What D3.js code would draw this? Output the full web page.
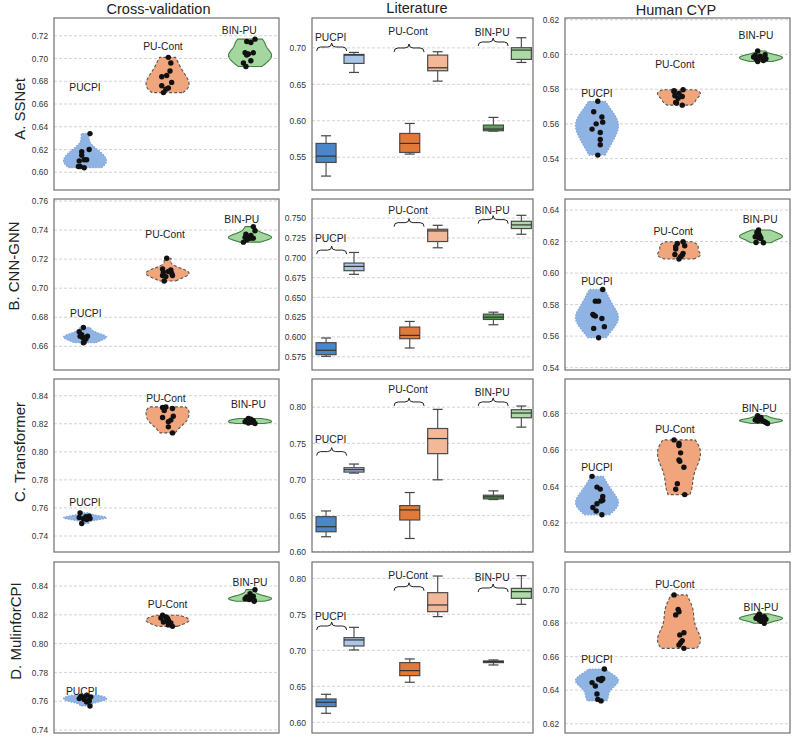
<!DOCTYPE html>
<html><head><meta charset="utf-8">
<script src="https://cdn.jsdelivr.net/npm/d3@7"></script>
<style>body{margin:0;background:#fff} text{font-family:"Liberation Sans",Arial,sans-serif}</style>
</head><body><svg id="c" width="800" height="738"></svg>
<script>
const methods = ["A. SSNet","B. CNN-GNN","C. Transformer","D. MulinforCPI"];
const datasets = ["Cross-validation","Literature","Human CYP"];
const groups = ["PUCPI","PU-Cont","BIN-PU"];

// Cross-validation violins [method][group]
const cvValues = [
 [[0.634,0.620,0.618,0.615,0.611,0.611,0.610,0.605,0.604,0.605],
  [0.701,0.696,0.689,0.685,0.684,0.679,0.676,0.674,0.673,0.670],
  [0.717,0.715,0.714,0.705,0.705,0.704,0.703,0.698,0.696,0.693]],
 [[0.673,0.670,0.668,0.667,0.667,0.666,0.666,0.665,0.663,0.6625],
  [0.7206,0.7133,0.7126,0.7115,0.711,0.7103,0.7087,0.7087,0.708,0.705],
  [0.7424,0.7395,0.7372,0.7363,0.7356,0.735,0.7344,0.7344,0.7333,0.7317]],
 [[0.7565,0.7542,0.7537,0.7535,0.7532,0.753,0.7525,0.7523,0.7518,0.7489],
  [0.832,0.8316,0.8309,0.8295,0.8254,0.8245,0.8226,0.8214,0.8178,0.8135],
  [0.8238,0.8232,0.8226,0.8226,0.8221,0.8214,0.8214,0.821,0.8205,0.8202]],
 [[0.7641,0.7635,0.763,0.7625,0.7618,0.7611,0.7607,0.7602,0.7595,0.7567],
  [0.8197,0.8185,0.8178,0.8174,0.8162,0.8157,0.815,0.8144,0.813,0.812],
  [0.8375,0.8347,0.8329,0.8324,0.8317,0.8312,0.8312,0.8306,0.8301,0.8294]]
];
const cvJitter = [
 [[.06,.05,-.04,-.04,-.01,.02,-.07,-.06,-.01,-.08],[.01,.04,.03,-.01,-.07,.05,-.07,.01,-.02,-.05],[.06,-.04,.01,-.06,.04,-.02,-.04,.01,-.08,-.05]],
 [[-.02,-.07,-.04,.03,-.06,-.03,0,.01,-.01,-.02],[-.01,-.06,.04,.01,-.05,.05,-.06,.06,-.02,-.04],[.04,.06,-.05,.01,-.02,-.06,0,.04,-.04,-.08]],
 [[-.06,.05,.01,.04,-.07,.04,.06,-.02,.02,-.04],[-.02,-.06,.06,-.04,.07,-.06,.04,.01,.01,.06],[-.02,.01,.02,-.04,.04,-.06,0,.02,-.02,.06]],
 [[.02,-.05,.07,-.02,-.07,-.01,.05,.05,.02,.06],[-.06,-.02,-.08,0,.01,-.01,-.05,.04,.01,.06],[.06,0,.04,-.04,.02,-.02,-.06,-.01,.05,.05]]
];
const cvLabelAt = [
 [[0,0.6745],[0.945,0.7103],[1.87,0.7244]],
 [[0.01,0.6828],[0.97,0.7367],[1.9,0.747]],
 [[0,0.7637],[0.98,0.838],[1.98,0.834]],
 [[-0.04,0.7664],[1.0,0.8271],[2.0,0.8428]]
];
const cvTicks = [[0.60,0.62,0.64,0.66,0.68,0.70,0.72],[0.66,0.68,0.70,0.72,0.74,0.76],[0.74,0.76,0.78,0.80,0.82,0.84],[0.74,0.76,0.78,0.80,0.82,0.84]];
const cvDomain = [[0.5844,0.7356],[0.6437,0.7614],[0.7286,0.8519],[0.7379,0.8567]];

// Human CYP violins [method][group]
const cypValues = [
 [[0.573,0.567,0.564,0.561,0.560,0.557,0.555,0.551,0.548,0.542],
  [0.5797,0.5791,0.5786,0.5776,0.5762,0.5758,0.5747,0.5724,0.572,0.5708],
  [0.602,0.5998,0.5994,0.599,0.5985,0.5979,0.5975,0.5975,0.5965,0.5959]],
 [[0.5896,0.5822,0.5822,0.5738,0.5732,0.5727,0.5712,0.566,0.5649,0.559],
  [0.6199,0.6188,0.6173,0.6167,0.6152,0.6125,0.6118,0.6114,0.6104,0.6089],
  [0.6273,0.6258,0.6252,0.6241,0.623,0.623,0.6224,0.622,0.6194,0.6192]],
 [[0.6455,0.6396,0.6385,0.6345,0.6324,0.632,0.6305,0.6284,0.6265,0.6244],
  [0.6655,0.6636,0.6624,0.6584,0.6545,0.6538,0.6505,0.6415,0.6384,0.6355],
  [0.6787,0.6778,0.6769,0.6764,0.6764,0.676,0.676,0.6756,0.675,0.6745]],
 [[0.6526,0.647,0.6468,0.6465,0.6457,0.6445,0.6425,0.6377,0.6345,0.6336],
  [0.6967,0.6881,0.6867,0.6848,0.6742,0.6729,0.6695,0.6683,0.6669,0.6649],
  [0.6854,0.6842,0.6838,0.6834,0.6828,0.6825,0.6822,0.6818,0.681,0.6798]]
];
const cypJitter = [
 [[.01,-.04,.06,.07,-.01,-.06,.04,.04,.04,.01],[.05,-.06,-.06,0,-.05,.04,-.01,-.04,-.03,.04],[-.04,.05,-.07,-.01,-.09,0,-.06,.06,.03,-.04]],
 [[.07,-.02,.02,-.05,-.04,-.02,.06,.09,-.04,.02],[.05,-.02,.07,-.04,-.04,.05,-.05,.04,.02,0],[-.03,-.05,-.03,-.02,-.07,-.01,-.03,0,-.06,.03]],
 [[-.06,0,.04,.07,.07,.05,0,-.05,-.01,.06],[-.06,0,0,.02,0,.01,.06,-.02,-.04,.07],[-.04,0,-.06,-.02,-.07,.02,-.04,.04,.06,.08]],
 [[.09,.06,.07,.02,.05,-.06,-.02,0,.01,.05],[-.06,-.01,0,-.04,.06,.01,.04,.02,0,.06],[-.02,-.04,.04,.02,-.06,0,.06,-.02,0,.04]]
];
const cypLabelAt = [
 [[0,0.5776],[0.95,0.594],[1.94,0.6107]],
 [[0,0.5945],[0.93,0.6263],[1.99,0.6338]],
 [[0,0.6502],[0.95,0.6711],[1.98,0.6829]],
 [[0,0.658],[0.95,0.7032],[2.0,0.6893]]
];
const cypTicks = [[0.54,0.56,0.58,0.60,0.62],[0.54,0.56,0.58,0.60,0.62,0.64],[0.62,0.64,0.66,0.68],[0.62,0.64,0.66,0.68,0.70]];
const cypDomain = [[0.5219,0.621],[0.5385,0.647],[0.604,0.6989],[0.6145,0.7163]];

// Literature boxplots [method][group] = [low whisker, q1, median, q3, high whisker]
const litDark = [
 [[0.5241,0.5428,0.5515,0.5689,0.5794],[0.5543,0.5565,0.5689,0.5826,0.5963],[0.5858,0.5863,0.5886,0.5941,0.6046]],
 [[0.5756,0.5777,0.5832,0.5928,0.5987],[0.5861,0.5978,0.602,0.6125,0.6196],[0.6154,0.6221,0.625,0.6288,0.6313]],
 [[0.6207,0.6276,0.6346,0.6485,0.6564],[0.6183,0.6439,0.6578,0.6638,0.6819],[0.6722,0.6731,0.6759,0.6782,0.6842]],
 [[0.6125,0.6218,0.6278,0.6324,0.6389],[0.6556,0.6648,0.6718,0.6829,0.688],[0.6796,0.6829,0.6843,0.6852,0.6866]]
];
const litLight = [
 [[0.6663,0.6787,0.6901,0.691,0.6938],[0.6544,0.6686,0.6727,0.6901,0.6947],[0.68,0.6842,0.697,0.7002,0.7139]],
 [[0.6791,0.6837,0.6891,0.6933,0.7067],[0.7126,0.7205,0.7339,0.736,0.741],[0.7297,0.7369,0.7415,0.7461,0.7536]],
 [[0.7088,0.7102,0.7135,0.7162,0.7213],[0.6995,0.7357,0.7566,0.7705,0.797],[0.7724,0.7854,0.7919,0.7965,0.8016]],
 [[0.7005,0.706,0.7144,0.7176,0.7319],[0.7468,0.7537,0.763,0.7801,0.8032],[0.7639,0.7722,0.7815,0.7861,0.8037]]
];
const litBraceLevel = [[0.6957,0.6944,0.7026],[0.7046,0.7393,0.7431],[0.733,0.8017,0.8017],[0.7282,0.7828,0.781]];
const litLabelLevel = [[0.714,0.7222,0.7209],[0.7247,0.7603,0.7603],[0.7553,0.8249,0.8203],[0.7476,0.8036,0.8014]];
const litBraceShift = [-0.1,-0.175,-0.17];
const litTicks = [[0.55,0.60,0.65,0.70],[0.575,0.600,0.625,0.650,0.675,0.700,0.725,0.750],[0.60,0.65,0.70,0.75,0.80],[0.60,0.65,0.70,0.75,0.80]];
const litDomain = [[0.505,0.741],[0.5583,0.7742],[0.5996,0.839],[0.5851,0.8227]];

// ---------- layout & style ----------
const colX = [[54,279],[312,533],[565,790]];
const rowY = [[18,190],[199,370],[379,552],[562,733]];
const catDomain = [[-0.376,2.351],[-0.335,2.306],[-0.39,2.354]];
const violinFill = ["#8fb4e3","#f0a57c","#a4d7a0"];
const violinStroke = ["#7ea4d8","#555555","#3f7f3f"];
const violinDash = ["1.5,1.5","3,2",null];
const darkFill = ["#4a86c8","#e07a38","#56a356"];
const lightFill = ["#a9c5e8","#f2b898","#acd9a7"];

const svg = d3.select("#c");

function kde(vals, n) {
  const m = d3.mean(vals), sd = d3.deviation(vals);
  const bw = sd * Math.pow(vals.length, -0.2);
  const lo = d3.min(vals), hi = d3.max(vals);
  const pts = d3.range(n).map(i => {
    const v = lo + (hi - lo) * i / (n - 1);
    const d = d3.sum(vals, x => Math.exp(-0.5 * ((v - x) / bw) ** 2));
    return {v, d};
  });
  const mx = d3.max(pts, p => p.d);
  pts.forEach(p => p.d /= mx);
  return pts;
}

function panelFrame(g, c, r, ticks, fmt, fs) {
  const [x0,x1] = colX[c], [y0,y1] = rowY[r];
  return {x0,x1,y0,y1};
}

function drawAxes(g, y, ticks, fmt, fs, x0, x1, y0, y1) {
  g.append("g").selectAll("line").data(ticks).join("line")
    .attr("x1", x0).attr("x2", x1).attr("y1", d => y(d)).attr("y2", d => y(d))
    .attr("stroke", "#c8c8c8").attr("stroke-width", 0.8).attr("stroke-dasharray", "3,2");
  const ax = g.append("g").attr("transform", `translate(${x0},0)`)
    .call(d3.axisLeft(y).tickValues(ticks).tickSize(0).tickPadding(6).tickFormat(d3.format(fmt)));
  ax.select(".domain").remove();
  ax.selectAll("text").attr("font-size", fs).attr("fill", "#333")
    .style("font-family", '"Liberation Sans",Arial,sans-serif');
}

function drawViolinPanel(c, r, values, jitter, labelAt, ticks, domain) {
  const [x0,x1] = colX[c], [y0,y1] = rowY[r];
  const g = svg.append("g");
  const y = d3.scaleLinear().domain(domain).range([y1, y0]);
  const x = d3.scaleLinear().domain(catDomain[c]).range([x0, x1]);
  drawAxes(g, y, ticks, ".2f", 8.3, x0, x1, y0, y1);
  const half = 21.5;
  values.forEach((vals, gi) => {
    const k = kde(vals, 100);
    const xc = x(gi);
    const area = d3.area().y(d => y(d.v)).x0(d => xc - d.d * half).x1(d => xc + d.d * half);
    const p = g.append("path").attr("d", area(k)).attr("fill", violinFill[gi])
      .attr("stroke", violinStroke[gi]).attr("stroke-width", gi === 0 ? 1.2 : 1.1);
    if (violinDash[gi]) p.attr("stroke-dasharray", violinDash[gi]);
    g.append("g").selectAll("circle").data(vals).join("circle")
      .attr("cx", (d, i) => x(gi + jitter[gi][i])).attr("cy", d => y(d)).attr("r", 2.7)
      .attr("fill", "#111");
    g.append("text").attr("x", x(labelAt[gi][0])).attr("y", y(labelAt[gi][1]))
      .attr("text-anchor", "middle").attr("dominant-baseline", "central")
      .attr("font-size", 10.3).attr("fill", "#222").text(groups[gi]);
  });
  g.append("rect").attr("x", x0).attr("y", y0).attr("width", x1 - x0).attr("height", y1 - y0)
    .attr("fill", "none").attr("stroke", "#707070").attr("stroke-width", 1.2);
}

function drawBox(g, xc, y, s, fill) {
  const bw = 10, cw = 5;
  g.append("line").attr("x1", xc).attr("x2", xc).attr("y1", y(s[4])).attr("y2", y(s[3])).attr("stroke", "#555").attr("stroke-width", 1.2);
  g.append("line").attr("x1", xc).attr("x2", xc).attr("y1", y(s[1])).attr("y2", y(s[0])).attr("stroke", "#555").attr("stroke-width", 1.2);
  g.append("line").attr("x1", xc - cw).attr("x2", xc + cw).attr("y1", y(s[4])).attr("y2", y(s[4])).attr("stroke", "#444").attr("stroke-width", 1.2);
  g.append("line").attr("x1", xc - cw).attr("x2", xc + cw).attr("y1", y(s[0])).attr("y2", y(s[0])).attr("stroke", "#444").attr("stroke-width", 1.2);
  g.append("rect").attr("x", xc - bw).attr("y", y(s[3])).attr("width", 2 * bw).attr("height", Math.max(0.5, y(s[1]) - y(s[3])))
    .attr("fill", fill).attr("stroke", "#4a4a4a").attr("stroke-width", 1.2);
  g.append("line").attr("x1", xc - bw).attr("x2", xc + bw).attr("y1", y(s[2])).attr("y2", y(s[2])).attr("stroke", "#333").attr("stroke-width", 1.2);
}

function bracePath(xc, yb) {
  const w = 15, h = 8;
  return `M${xc - w},${yb} Q${xc - w},${yb - h / 2} ${xc - w + 4},${yb - h / 2} L${xc - 4},${yb - h / 2} Q${xc},${yb - h / 2} ${xc},${yb - h}` +
         ` Q${xc},${yb - h / 2} ${xc + 4},${yb - h / 2} L${xc + w - 4},${yb - h / 2} Q${xc + w},${yb - h / 2} ${xc + w},${yb}`;
}

function drawLitPanel(r) {
  const c = 1;
  const [x0,x1] = colX[c], [y0,y1] = rowY[r];
  const g = svg.append("g");
  const y = d3.scaleLinear().domain(litDomain[r]).range([y1, y0]);
  const x = d3.scaleLinear().domain(catDomain[c]).range([x0, x1]);
  drawAxes(g, y, litTicks[r], r === 1 ? ".3f" : ".2f", 8.5, x0, x1, y0, y1);
  groups.forEach((name, gi) => {
    drawBox(g, x(gi - 0.167), y, litDark[r][gi], darkFill[gi]);
    drawBox(g, x(gi + 0.167), y, litLight[r][gi], lightFill[gi]);
    const bx = x(gi + litBraceShift[gi]);
    g.append("path").attr("d", bracePath(bx, y(litBraceLevel[r][gi])))
      .attr("fill", "none").attr("stroke", "#222").attr("stroke-width", 1);
    g.append("text").attr("x", bx - 1).attr("y", y(litLabelLevel[r][gi]))
      .attr("text-anchor", "middle").attr("dominant-baseline", "central")
      .attr("font-size", 10.3).attr("fill", "#222").text(name);
  });
  g.append("rect").attr("x", x0).attr("y", y0).attr("width", x1 - x0).attr("height", y1 - y0)
    .attr("fill", "none").attr("stroke", "#707070").attr("stroke-width", 1.2);
}

for (let r = 0; r < 4; r++) {
  drawViolinPanel(0, r, cvValues[r], cvJitter[r], cvLabelAt[r], cvTicks[r], cvDomain[r]);
  drawLitPanel(r);
  drawViolinPanel(2, r, cypValues[r], cypJitter[r], cypLabelAt[r], cypTicks[r], cypDomain[r]);
}

// titles
const titlePos = [[158.5,14],[417,13],[676,15]];
datasets.forEach((t, i) => svg.append("text").attr("x", titlePos[i][0]).attr("y", titlePos[i][1])
  .attr("text-anchor", "middle").attr("font-size", 14.5).attr("fill", "#222").text(t));
const rowLabelPos = [[25,109],[19,266],[25,452],[21,631]];
methods.forEach((t, i) => svg.append("text")
  .attr("transform", `translate(${rowLabelPos[i][0]},${rowLabelPos[i][1]}) rotate(-90)`)
  .attr("text-anchor", "middle").attr("font-size", 15).attr("fill", "#222").text(t));
</script></body></html>
